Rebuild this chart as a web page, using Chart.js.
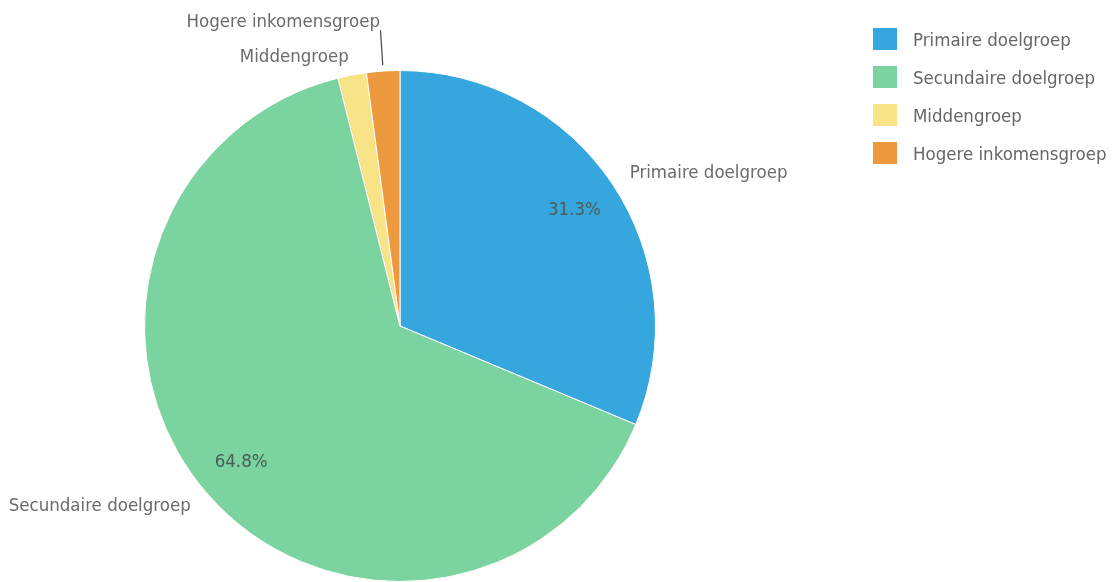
<!DOCTYPE html>
<html>
<head>
<meta charset="utf-8">
<script src="https://cdn.jsdelivr.net/npm/chart.js@4/dist/chart.umd.min.js"></script>
<style>
  html, body { margin: 0; padding: 0; background: #fff; }
  #wrap { position: relative; width: 1115px; height: 582px; }
  #legend { position: absolute; left: 873px; top: 20px; font-family: "Liberation Sans Narrow", "DejaVu Sans Condensed", sans-serif; font-size: 18.5px; color: #666; }
  .item { display: flex; align-items: center; height: 38px; }
  .box { width: 24px; height: 22px; margin-right: 16px; }
</style>
</head>
<body>
<div id="wrap">
  <canvas id="myChart" width="1115" height="582"></canvas>
  <div id="legend"></div>
</div>
<script>
// Gegevens
const categories = ['Primaire doelgroep', 'Secundaire doelgroep', 'Middengroep', 'Hogere inkomensgroep'];
const shares = [31.3, 64.8, 1.8, 2.1];
const colors = ['#36a6df', '#7bd49f', '#f8e487', '#ed9a3e'];

const FONT = '"Liberation Sans Narrow", "DejaVu Sans Condensed", sans-serif';

// Legenda rechts
const legendDiv = document.getElementById('legend');
categories.forEach(function(name, i) {
    legendDiv.innerHTML += '<div class="item"><div class="box" style="background:' + colors[i] + '"></div><span>' + name + '</span></div>';
});

// Labels rond de taart + percentages in de grote stukken
const labelPlugin = {
    id: 'outerLabels',
    afterDatasetsDraw: function(chart) {
        const ctx = chart.ctx;
        const meta = chart.getDatasetMeta(0);
        const outerFactor = [1.08, 1.08, 1.07, 1.19];
        ctx.save();
        ctx.font = '18.5px ' + FONT;
        ctx.textBaseline = 'middle';
        meta.data.forEach(function(arc, i) {
            const p = arc.getProps(['x', 'y', 'startAngle', 'endAngle', 'outerRadius']);
            const mid = (p.startAngle + p.endAngle) / 2;
            const cos = Math.cos(mid), sin = Math.sin(mid);
            // buitenlabel
            const r = p.outerRadius * outerFactor[i];
            const lx = p.x + cos * r, ly = p.y + sin * r;
            ctx.fillStyle = '#6a6a6a';
            ctx.textAlign = cos >= 0 ? 'left' : 'right';
            ctx.fillText(categories[i], lx, ly);
            if (outerFactor[i] > 1.12) {
                ctx.strokeStyle = '#444';
                ctx.lineWidth = 1.2;
                ctx.beginPath();
                ctx.moveTo(p.x + cos * (p.outerRadius + 6), p.y + sin * (p.outerRadius + 6));
                ctx.lineTo(p.x + cos * (p.outerRadius * 1.16), p.y + sin * (p.outerRadius * 1.16));
                ctx.stroke();
            }
            // percentage
            if (shares[i] > 10) {
                const pr = p.outerRadius * 0.82;
                ctx.fillStyle = '#4d5a55';
                ctx.textAlign = 'center';
                ctx.fillText(shares[i].toFixed(1) + '%', p.x + cos * pr, p.y + sin * pr);
            }
        });
        ctx.restore();
    }
};

new Chart(document.getElementById('myChart'), {
    type: 'pie',
    data: {
        labels: categories,
        datasets: [{
            data: shares,
            backgroundColor: colors,
            borderColor: '#ffffff',
            borderWidth: 1
        }]
    },
    options: {
        responsive: false,
        animation: false,
        layout: { padding: { left: 144, right: 459, top: 70, bottom: 0 } },
        plugins: {
            legend: { display: false },
            tooltip: { enabled: false }
        }
    },
    plugins: [labelPlugin]
});
</script>
</body>
</html>
